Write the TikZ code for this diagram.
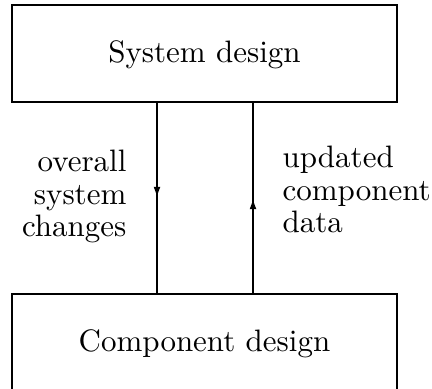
\documentclass[tikz,border=0pt]{standalone}
\usetikzlibrary{arrows.meta,decorations.markings}
\begin{document}
\begin{tikzpicture}[x=0.3226pt,y=-0.3226pt,
  box/.style={draw,line width=0.7pt,minimum width=385*0.3226pt,minimum height=97*0.3226pt,inner sep=0pt,text height=8pt,text depth=1.88pt},
  lbl/.style={inner sep=0pt,font=\fontsize{10}{10.6}\selectfont},
  flow/.style={line width=0.7pt,postaction={decorate},
    decoration={markings,mark=at position #1 with {\arrow{Triangle[length=3pt,width=1.9pt]}}}}]
\clip (0,0) rectangle (432,389);
\useasboundingbox (0,0) rectangle (432,389);
\node[box] (sys) at (204.5,53.5) {System design};
\node[box] (comp) at (204.5,342.5) {Component design};
\coordinate (l) at (157,196);
\coordinate (r) at (253,200);
\draw[flow=0.49] (sys.south -| l) -- (comp.north -| l);
\draw[flow=0.49] (comp.north -| r) -- (sys.south -| r);
\node[lbl,anchor=base east,align=right] (ol) at (127,237) {overall\\system\\changes};
\node[lbl,anchor=base west,align=left] (ul) at (282,233) {updated\\component\\data};
\end{tikzpicture}
\end{document}
